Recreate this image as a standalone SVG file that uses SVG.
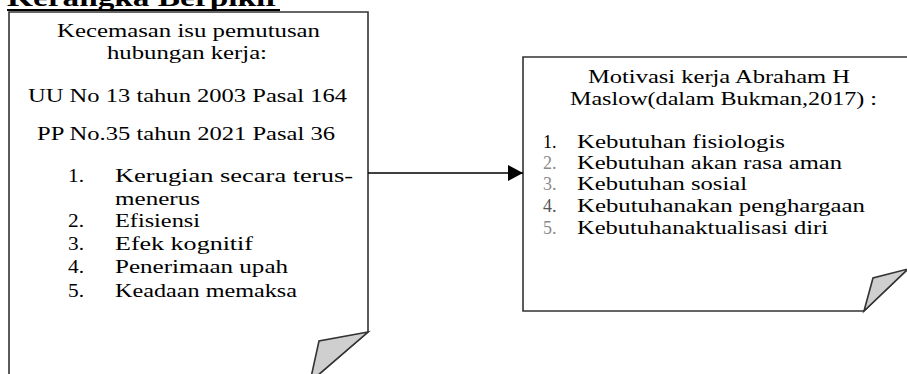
<svg xmlns="http://www.w3.org/2000/svg" width="907" height="374" viewBox="0 0 907 374">
<style>
.t{font-family:"Liberation Serif","Times New Roman",serif;font-size:18px;fill:#000}
.title{font-family:"Liberation Serif","Times New Roman",serif;font-size:25px;font-weight:bold;fill:#000}
.box{fill:#fff;stroke:#333;stroke-width:1.6}
.fold{fill:#cfcfcf;stroke:#333;stroke-width:1.6;stroke-linejoin:miter}
.g{fill:#8a8a8a}
.g4{fill:#555}
.conn{stroke:#000;stroke-width:1.6;fill:none}
</style>
<defs>
<marker id="arr" markerWidth="16" markerHeight="16" refX="15" refY="8" orient="auto" markerUnits="userSpaceOnUse">
<path d="M0,0 L15,8 L0,16 Z" fill="#000"/>
</marker>
</defs>
<rect width="907" height="374" fill="#fff"/>
<text class="title" x="7" y="6" textLength="273" lengthAdjust="spacingAndGlyphs">Kerangka Berpikir</text>
<line x1="7" y1="10" x2="280" y2="10" stroke="#000" stroke-width="2"/>
<g id="node-left">
<path class="box" d="M9,12 H368 V332 L310,382 H9 Z"/>
<path class="fold" d="M368,332 L319,341 L310,382 Z"/>
<text class="t" x="57" y="37" textLength="263" lengthAdjust="spacingAndGlyphs">Kecemasan isu pemutusan</text>
<text class="t" x="107" y="59" textLength="160" lengthAdjust="spacingAndGlyphs">hubungan kerja:</text>
<text class="t" x="28" y="102" textLength="319" lengthAdjust="spacingAndGlyphs">UU No 13 tahun 2003 Pasal 164</text>
<text class="t" x="37" y="140" textLength="298" lengthAdjust="spacingAndGlyphs">PP No.35 tahun 2021 Pasal 36</text>
<text class="t" x="68" y="182" textLength="16" lengthAdjust="spacingAndGlyphs">1.</text>
<text class="t" x="115" y="182" textLength="238" lengthAdjust="spacingAndGlyphs">Kerugian secara terus-</text>
<text class="t" x="115" y="205" textLength="85" lengthAdjust="spacingAndGlyphs">menerus</text>
<text class="t" x="68" y="227" textLength="16" lengthAdjust="spacingAndGlyphs">2.</text>
<text class="t" x="115" y="227" textLength="85" lengthAdjust="spacingAndGlyphs">Efisiensi</text>
<text class="t" x="68" y="250" textLength="16" lengthAdjust="spacingAndGlyphs">3.</text>
<text class="t" x="115" y="250" textLength="138" lengthAdjust="spacingAndGlyphs">Efek kognitif</text>
<text class="t" x="68" y="273" textLength="16" lengthAdjust="spacingAndGlyphs">4.</text>
<text class="t" x="115" y="273" textLength="173" lengthAdjust="spacingAndGlyphs">Penerimaan upah</text>
<text class="t" x="68" y="297" textLength="16" lengthAdjust="spacingAndGlyphs">5.</text>
<text class="t" x="115" y="297" textLength="182" lengthAdjust="spacingAndGlyphs">Keadaan memaksa</text>
</g>
<g id="node-right">
<path class="box" d="M523,57 H912 V265 L864,311 H523 Z"/>
<path class="fold" d="M908,269 L873,278 L864,311 Z"/>
<text class="t" x="588" y="83" textLength="262" lengthAdjust="spacingAndGlyphs">Motivasi kerja Abraham H</text>
<text class="t" x="570" y="105" textLength="307" lengthAdjust="spacingAndGlyphs">Maslow(dalam Bukman,2017)  :</text>
<text class="t" x="543" y="148">1.</text>
<text class="t" x="577" y="148" textLength="208" lengthAdjust="spacingAndGlyphs">Kebutuhan fisiologis</text>
<text class="t g" x="543" y="169">2.</text>
<text class="t" x="577" y="169" textLength="265" lengthAdjust="spacingAndGlyphs">Kebutuhan akan rasa aman</text>
<text class="t g" x="543" y="190">3.</text>
<text class="t" x="577" y="190" textLength="170" lengthAdjust="spacingAndGlyphs">Kebutuhan sosial</text>
<text class="t g4" x="543" y="212">4.</text>
<text class="t" x="577" y="212" textLength="288" lengthAdjust="spacingAndGlyphs">Kebutuhanakan penghargaan</text>
<text class="t g" x="543" y="234">5.</text>
<text class="t" x="577" y="234" textLength="251" lengthAdjust="spacingAndGlyphs">Kebutuhanaktualisasi diri</text>
</g>
<g id="connectors">
<line class="conn" x1="368" y1="173" x2="523" y2="173" marker-end="url(#arr)"/>
</g>
</svg>
